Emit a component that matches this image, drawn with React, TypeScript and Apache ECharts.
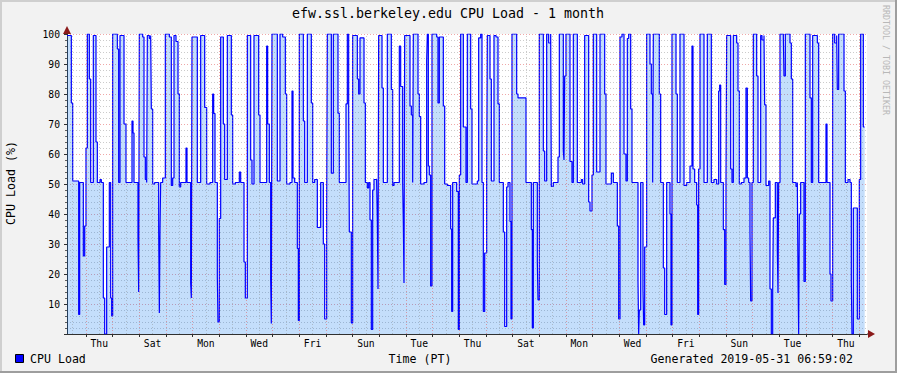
import React, { useEffect, useRef } from "react";
import * as echarts from "echarts";

// hours since the start of the graph (Wed 2019-05-01 07:00 PT)
const hours = [
  0, 3.9, 5.1, 10.5, 11.4, 14.7, 15.9, 17.1, 18.3, 20.1, 21.3, 23.7, 26.1, 27.3, 29.7, 30.9, 32.7, 33.9, 35.7, 38.1,
  39.3, 40.2, 41.1, 45.3, 46.5, 47.7, 51.3, 53.1, 58.5, 59.4, 60.3, 63.9, 64.5, 65.1, 68.1, 69.3, 70.5, 71.7, 72.3, 74.1,
  75.3, 75.9, 77.1, 78.9, 82.5, 83.1, 83.7, 84.3, 86.1, 88.5, 92.1, 93.9, 95.1, 96.3, 98.1, 99.9, 101.1, 102.3, 107.1, 108,
  111.3, 111.9, 112.5, 117.3,
  120.3, 123.9, 125.7, 128.7, 131.1, 132, 133.2, 135.3, 135.9, 137.1, 138.3, 140.7, 141.9, 144.3, 147.9, 149.1, 151.5, 155.1, 156.3, 159.3,
  160.5, 162.3, 165.3, 166.5, 168.3, 172.5, 173.7, 179.7, 180.6, 182.1, 183.3, 183.9, 184.5, 189.3, 191.7, 194.1, 196.5, 197.7, 200.7, 202.5,
  203.4, 204.9, 207.3, 208.2, 209.1, 212.7, 213.9, 216.3, 219.9, 221.1, 222.9, 225.3, 228.3, 230.7, 231.9, 233.7, 234.3, 237.9,
  239.7, 243.9, 245.1, 251.1, 252.3, 253.5, 254.1, 255.9, 257.1, 261.3, 262.5, 263.7, 267.3, 268.5, 270.3, 271.5, 272.7, 273.9, 275.1, 276.3,
  278.7, 279.3, 279.9, 280.5, 283.5, 284.7, 288.3, 291.9, 293.1, 294.3, 299.1, 300.3, 302.1, 302.7, 303.3, 303.9, 308.7, 309.9, 311.1, 311.7,
  315.9, 317.1, 318.3, 321.3, 323.7, 324.3, 325.2, 326.1, 327.3, 328.5, 332.7, 333.9, 335.1, 338.7, 339.9, 342.3, 345.3, 346.2, 347.1, 350.7,
  352.2, 353.1, 354.3, 356.7, 359.1,
  360.3, 363.3, 364.5, 369.3, 370.5, 372.3, 373.5, 374.7, 375.9, 377.7, 378.3, 380.7, 381.9, 384.3, 386.1, 387.9, 389.1, 392.7, 393.9, 395.7,
  396.9, 398.7, 399.6, 400.5, 404.7, 405.9, 413.1, 417.9, 418.8, 419.7, 423.3, 423.9, 425.1, 428.7, 429.9, 431.7, 433.5, 435.3, 435.9, 437.7,
  441.9, 443.1, 446.7, 447.3, 447.9, 449.1, 452.7, 454.5, 455.7, 459.3, 462.9, 464.1, 465.9, 469.5, 470.7, 472.5, 473.7, 476.7,
  479.7, 483.9, 485.1, 489.9, 491.7, 495.3, 496.5, 497.7, 499.5, 501.3, 503.1, 504.3, 505.5, 507.3, 508.5, 513.9, 514.5, 515.1, 516.3, 518.4,
  519, 519.9, 521.7, 524.7, 525.9, 527.1, 527.7, 533.1, 534.3, 536.7, 537.9, 539.7, 542.7, 543.6, 544.5, 548.1, 549.3, 551.7, 555.3, 557.7,
  560.7, 562.5, 563.4, 564.9, 566.7, 567.6, 568.5, 569.7, 573.3, 576.3, 579.9, 582.3, 584.7, 586.5, 587.4, 588.3, 590.7, 591.9, 593.1, 593.7,
  597.3, 598.5, 599.7,
  602.7, 603.9, 605.1, 606.9, 609.3, 611.1, 612.3, 613.5, 614.7, 615.3, 616.5, 617.7, 620.7, 621.9, 624.3, 625.5, 627.3, 627.9, 629.1, 631.5,
  632.7, 633.9, 635.1, 635.7, 637.5, 639.3, 639.9, 640.5, 641.7, 644.7, 645.3, 646.5, 650.7, 651.9, 653.1, 656.1, 657.3, 657.9, 658.5, 659.1,
  660.3, 663.3, 664.5, 668.7, 669.9, 671.1, 675.3, 676.5, 683.1, 684, 686.7, 687.6, 689.1, 690.9, 692.7, 693.3, 694.5, 699.3, 700.5, 702.9,
  704.7, 705.9, 706.5, 707.7, 711.3, 713.1, 714.3, 716.7, 717.9,
];

// CPU load (%) holding from each of the hours above until the next
const cpuLoad = [
  99.5, 77, 51, 6.5, 50.5, 26, 36, 62, 100, 85, 50.5, 99.5, 64, 50.5, 51.5, 50.5, 12, 0, 29, 50.5,
  12, 6, 100, 95, 50.5, 99.5, 70, 50.5, 71, 67, 50.5, 32, 14, 100, 99, 59, 51.5, 50.5, 99.5, 98.5,
  99.5, 75, 50, 50.5, 35, 7, 35, 50.5, 52, 100, 99, 49.5, 52, 99.5, 97.5, 80, 49, 50.5, 62, 50.5,
  17, 12, 99, 50.5,
  99.5, 75.5, 50, 50.5, 80, 73.5, 50.5, 19, 4, 38.5, 99, 70, 51.5, 99.5, 73, 50, 50.5, 54, 50.5, 24,
  12, 99.5, 58, 50, 99.5, 73, 50.5, 96, 70, 50.5, 18, 3.5, 100, 51, 100, 99, 80, 50, 50.5, 81,
  52, 50.5, 28.5, 4.5, 100, 71, 50.5, 100, 77, 50.5, 51.5, 35.5, 50.5, 30, 5, 42.5, 100, 53.6,
  100, 73.6, 50.5, 76.7, 100, 76, 34, 3.7, 99.5, 85, 80, 98.7, 77, 50.5, 48.7, 50.5, 38, 1.5, 48, 51.5,
  50.5, 38, 15, 99.5, 82, 50.5, 100, 81.5, 49.5, 50.5, 96, 82.5, 50.5, 37, 17, 99.5, 76, 73, 50.5, 100,
  80, 72.5, 50, 50.5, 91, 100, 56, 53, 16, 100, 99, 77, 99, 76, 50, 49.5, 35, 7.5, 50.5, 47.5,
  1.5, 53, 100, 69, 50.5,
  100, 75, 50, 51, 98.7, 100, 50.5, 7.5, 27, 52, 99.5, 85, 51, 99.5, 99, 76.7, 50.5, 34, 2.5, 49,
  50.5, 37.5, 5, 100, 80, 78.7, 50.5, 34.8, 2, 50.5, 24, 11.4, 100, 61, 51, 100, 97, 100, 49.2, 50.5,
  59, 100, 61, 58, 86, 100, 57.5, 50.5, 100, 50.5, 51.5, 50, 99.5, 44, 41, 53, 100, 54,
  100, 80, 50, 53.6, 50.5, 36, 5, 99, 100, 60, 51, 98.5, 100, 75, 50.5, 17.5, 0, 8, 50.5, 15,
  3, 29, 100, 90, 80, 50.5, 100, 80, 50.5, 22, 6.5, 50.5, 40, 3, 100, 80, 50.5, 100, 49.5, 50.5,
  56, 96, 55, 50.5, 43, 6.5, 55, 100, 50.5, 100, 50.5, 51.5, 50, 81, 83, 50.5, 34.8, 16.5, 50.5, 99.5,
  55, 50.5, 99.5,
  97, 81, 50, 50.5, 52, 82, 52, 50.5, 34, 11, 50.5, 100, 86, 50.5, 99.5, 98, 99.5, 76.4, 49.5, 51,
  15, 0, 14, 38.7, 50.5, 28, 13.7, 50.5, 100, 99, 86, 100, 97, 85, 50.5, 49.2, 50.5, 20, 0, 40,
  50.5, 17.5, 100, 78.7, 50.5, 99.5, 97, 50.5, 70, 50.5, 20, 11, 100, 97, 99.5, 81.5, 100, 81, 50.5, 51.5,
  50.5, 17.5, 0, 42, 5, 51.5, 100, 69, 69,
];

const dayNames = ["Wed", "Thu", "Fri", "Sat", "Sun", "Mon", "Tue"];
const yTickValues = [0, 10, 20, 30, 40, 50, 60, 70, 80, 90, 100];

const TITLE = "efw.ssl.berkeley.edu CPU Load - 1 month";
const Y_TITLE = "CPU Load (%)";
const X_TITLE = "Time (PT)";
const LEGEND = "CPU Load";
const GENERATED = "Generated 2019-05-31 06:59:02";
const WATERMARK = "RRDTOOL / TOBI OETIKER";

const START_HOUR = 7; // graph starts at 07:00 on a Wednesday
const SPAN = 720;
const MONO = "DejaVu Sans Mono";

export default function App() {
  const ref = useRef<HTMLDivElement>(null);

  useEffect(() => {
    document.body.style.margin = "0";
    if (!ref.current) return;
    const chart = echarts.init(ref.current, null, { renderer: "svg" });

    const midnights: number[] = [];
    for (let h = 24 - START_HOUR; h <= SPAN; h += 24) midnights.push(h);
    const noons: number[] = [];
    for (let h = 12 - START_HOUR; h <= SPAN; h += 24) noons.push(h);
    const labelHours = noons.filter((h) => Math.floor((h + START_HOUR) / 24) % 2 === 1);

    const data = hours.map((h, i) => [h, cpuLoad[i]]);

    const markData: any[] = [
      ...noons.map((h) => ({ xAxis: h, lineStyle: { color: "rgba(140,140,140,0.45)", type: [1, 2], width: 1 } })),
      ...midnights.map((h) => ({ xAxis: h, lineStyle: { color: "rgba(224,80,80,0.5)", type: [1, 2], width: 1 } })),
    ];

    chart.setOption({
      animation: false,
      backgroundColor: "#F2F2F2",
      textStyle: { fontFamily: MONO },
      grid: { left: 67, top: 34, width: 800, height: 300, show: true, backgroundColor: "#FFFFFF", borderWidth: 0 },
      xAxis: {
        type: "value",
        min: 0,
        max: SPAN,
        axisLine: { show: true, lineStyle: { color: "#303030", width: 1 } },
        axisTick: { show: true, customValues: midnights, length: 3, lineStyle: { color: "#303030" } },
        axisLabel: {
          customValues: labelHours,
          formatter: (v: number) => dayNames[Math.floor((v + START_HOUR) / 24) % 7],
          fontFamily: MONO,
          fontSize: 9.7,
          color: "#000",
          margin: 4,
        },
        splitLine: { show: false },
      },
      yAxis: {
        type: "value",
        min: 0,
        max: 100,
        interval: 10,
        axisLine: { show: true, lineStyle: { color: "#303030", width: 1 } },
        axisTick: { show: true, length: 3, lineStyle: { color: "#303030" } },
        minorTick: { show: true, splitNumber: 5, length: 2, lineStyle: { color: "#606060" } },
        splitLine: { show: true, lineStyle: { color: "rgba(224,80,80,0.5)", type: [1, 2], width: 1 } },
        minorSplitLine: { show: true, lineStyle: { color: "rgba(140,140,140,0.45)", type: [1, 2], width: 1 } },
        axisLabel: {
          formatter: (v: number) => (v === 0 || !yTickValues.includes(v) ? "" : String(v)),
          fontFamily: MONO,
          fontSize: 9.7,
          color: "#000",
          margin: 7,
        },
      },
      series: [
        {
          type: "line",
          name: LEGEND,
          step: "end",
          data,
          symbol: "none",
          showSymbol: false,
          lineStyle: { color: "#0000FF", width: 1.2 },
          areaStyle: { color: "rgba(0,112,238,0.33)", origin: "start" },
          markLine: {
            silent: true,
            symbol: ["none", "none"],
            label: { show: false },
            animation: false,
            data: markData,
          },
        },
      ],
      graphic: [
        { type: "line", shape: { x1: 0, y1: 1, x2: 897, y2: 1 }, style: { stroke: "#CFCFCF", lineWidth: 2 } },
        { type: "line", shape: { x1: 1, y1: 0, x2: 1, y2: 373 }, style: { stroke: "#CFCFCF", lineWidth: 2 } },
        { type: "line", shape: { x1: 0, y1: 372, x2: 897, y2: 372 }, style: { stroke: "#9E9E9E", lineWidth: 2 } },
        { type: "line", shape: { x1: 896, y1: 0, x2: 896, y2: 373 }, style: { stroke: "#9E9E9E", lineWidth: 2 } },
        { type: "line", shape: { x1: 867, y1: 334, x2: 870, y2: 334 }, style: { stroke: "#303030", lineWidth: 1 } },
        { type: "polygon", shape: { points: [[868, 330], [875, 334], [868, 338]] }, style: { fill: "#8B1A1A" } },
        { type: "polygon", shape: { points: [[63, 34], [67, 26], [71, 34]] }, style: { fill: "#8B1A1A" } },
        {
          type: "text",
          x: 448,
          y: 13,
          style: { text: TITLE, font: `13.3px ${MONO}`, fill: "#000", textAlign: "center", textVerticalAlign: "middle" },
        },
        {
          type: "text",
          x: 11,
          y: 183,
          rotation: Math.PI / 2,
          style: { text: Y_TITLE, font: `11.6px ${MONO}`, fill: "#000", textAlign: "center", textVerticalAlign: "middle" },
        },
        { type: "rect", shape: { x: 15.5, y: 354.5, width: 8, height: 8 }, style: { fill: "#0000FF", stroke: "#000", lineWidth: 1 } },
        {
          type: "text",
          x: 30,
          y: 359,
          style: { text: LEGEND, font: `11.6px ${MONO}`, fill: "#000", textAlign: "left", textVerticalAlign: "middle" },
        },
        {
          type: "text",
          x: 420,
          y: 359,
          style: { text: X_TITLE, font: `11.6px ${MONO}`, fill: "#000", textAlign: "center", textVerticalAlign: "middle" },
        },
        {
          type: "text",
          x: 853,
          y: 359,
          style: { text: GENERATED, font: `11.6px ${MONO}`, fill: "#000", textAlign: "right", textVerticalAlign: "middle" },
        },
        {
          type: "text",
          x: 886,
          y: 60,
          rotation: -Math.PI / 2,
          style: { text: WATERMARK, font: `8.3px ${MONO}`, fill: "#B8B8B8", textAlign: "center", textVerticalAlign: "middle" },
        },
      ],
    });

    return () => chart.dispose();
  }, []);

  return <div ref={ref} style={{ width: 897, height: 373 }} />;
}
